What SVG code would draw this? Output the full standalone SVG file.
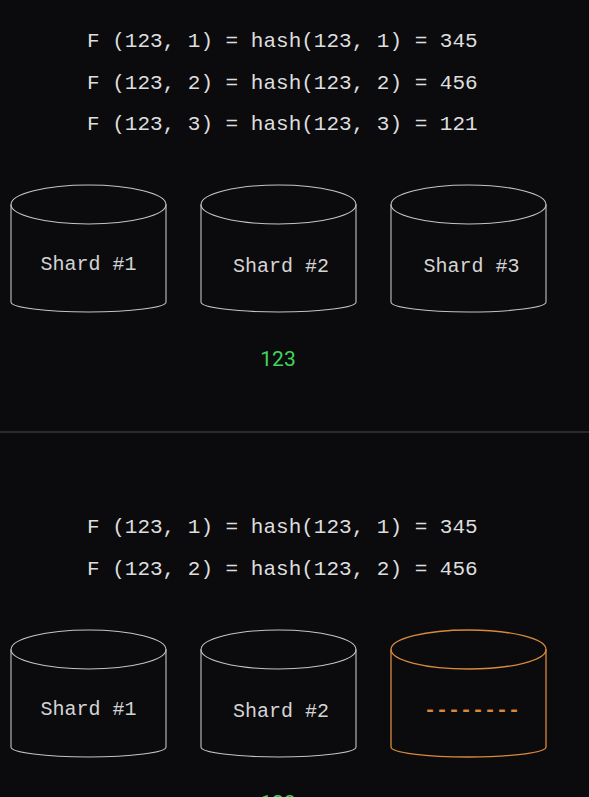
<svg xmlns="http://www.w3.org/2000/svg" width="589" height="797" viewBox="0 0 589 797">
<style>
.bg{fill:#0b0b0e}
.f{font-family:"Liberation Mono","DejaVu Sans Mono",monospace;font-size:21px;fill:#dedede}
.lbl{font-family:"Liberation Mono","DejaVu Sans Mono",monospace;font-size:20px;fill:#d4d4d4;text-anchor:middle}
.cyl{fill:none;stroke:#c4c4c4;stroke-width:1.1}
.cylo{fill:none;stroke:#d88a3c;stroke-width:1.3}
.g{font-family:"Roboto","Liberation Sans",sans-serif;font-size:21px;fill:#3fd55c;text-anchor:middle}
.dash{font-family:"Liberation Mono","DejaVu Sans Mono",monospace;font-size:20px;fill:#d88a3c;text-anchor:middle;font-weight:bold}
</style>
<defs>
<g id="cylshape">
<ellipse cx="0" cy="0" rx="77.5" ry="19.5"/>
<path d="M-77.5,0 V97.5 A77.5,10 0 0 0 77.5,97.5 V0"/>
</g>
</defs>
<rect class="bg" x="0" y="0" width="589" height="797"/>

<g id="formulas-top">
<text class="f" x="87" y="47">F (123, 1) = hash(123, 1) = 345</text>
<text class="f" x="87" y="89">F (123, 2) = hash(123, 2) = 456</text>
<text class="f" x="87" y="130">F (123, 3) = hash(123, 3) = 121</text>
</g>

<g id="shard1-top">
<use href="#cylshape" class="cyl" x="88.5" y="204.5"/>
<text class="lbl" x="88.5" y="270">Shard #1</text>
</g>
<g id="shard2-top">
<use href="#cylshape" class="cyl" x="278.5" y="204.5"/>
<text class="lbl" x="281" y="272">Shard #2</text>
</g>
<g id="shard3-top">
<use href="#cylshape" class="cyl" x="468.5" y="204.5"/>
<text class="lbl" x="471.5" y="272">Shard #3</text>
</g>

<g id="key-top">
<text class="g" x="278" y="366">123</text>
</g>

<g id="connectors">
<line x1="0" y1="432" x2="589" y2="432" stroke="#34343a" stroke-width="1.5"/>
</g>

<g id="formulas-bottom">
<text class="f" x="87" y="533">F (123, 1) = hash(123, 1) = 345</text>
<text class="f" x="87" y="575">F (123, 2) = hash(123, 2) = 456</text>
</g>

<g id="shard1-bottom">
<use href="#cylshape" class="cyl" x="88.5" y="649.5"/>
<text class="lbl" x="88.5" y="715">Shard #1</text>
</g>
<g id="shard2-bottom">
<use href="#cylshape" class="cyl" x="278.5" y="649.5"/>
<text class="lbl" x="281" y="717">Shard #2</text>
</g>
<g id="shard3-bottom">
<use href="#cylshape" class="cylo" x="468.5" y="649.5"/>
<text class="dash" x="472" y="716">--------</text>
</g>

<g id="key-bottom">
<text class="g" x="278" y="810">123</text>
</g>
</svg>
